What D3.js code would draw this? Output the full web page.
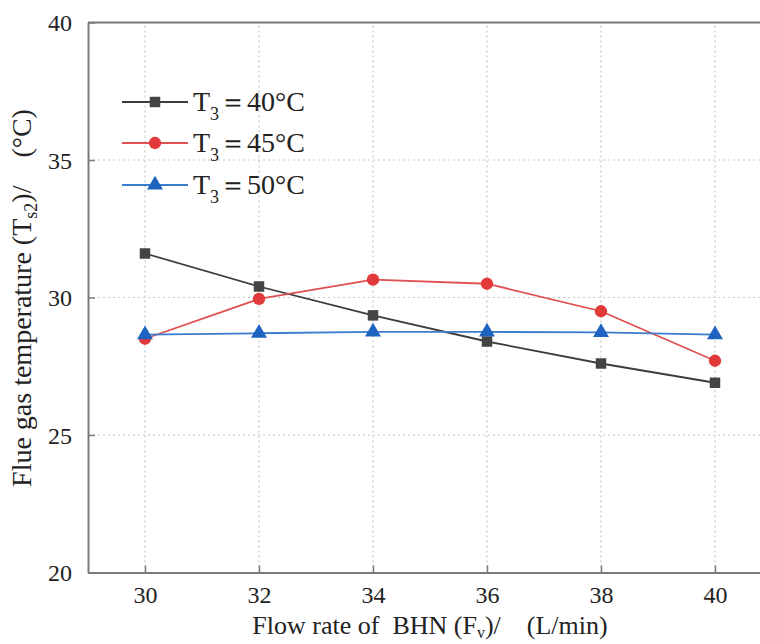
<!DOCTYPE html>
<html><head><meta charset="utf-8">
<script src="https://cdn.jsdelivr.net/npm/d3@7"></script>
<style>body{margin:0;background:#fff}svg{display:block}
text{font-family:"Liberation Serif","DejaVu Serif",serif}</style>
</head><body>
<svg id="c" width="760" height="644"></svg>
<script>
const flowRates = [30, 32, 34, 36, 38, 40];
const t40 = [31.6, 30.4, 29.35, 28.4, 27.6, 26.9];
const t45 = [28.5, 29.95, 30.65, 30.5, 29.5, 27.7];
const t50 = [28.65, 28.7, 28.75, 28.75, 28.73, 28.65];
const xTicks = [30, 32, 34, 36, 38, 40];
const yTicks = [20, 25, 30, 35, 40];
const seriesNames = ["40°C", "45°C", "50°C"];

const svg = d3.select("#c");
const font = '"Liberation Serif","DejaVu Serif",serif';
const x = d3.scaleLinear().domain([29, 41]).range([88, 772]);
const y = d3.scaleLinear().domain([20, 40]).range([572.5, 22.5]);
const axisColor = "#7a7a7a";

// grid
const g = svg.append("g");
g.selectAll("line.vx").data(xTicks).join("line")
  .attr("x1", d => x(d)).attr("x2", d => x(d)).attr("y1", y(20)).attr("y2", y(40))
  .attr("stroke", "#c8c8c8").attr("stroke-width", 1.2).attr("stroke-dasharray", "2,3");
g.selectAll("line.hy").data(yTicks.slice(1, -1)).join("line")
  .attr("x1", x(29)).attr("x2", 760).attr("y1", d => y(d)).attr("y2", d => y(d))
  .attr("stroke", "#c8c8c8").attr("stroke-width", 1.2).attr("stroke-dasharray", "2,3");

// axes
const xAxis = d3.axisBottom(x).tickValues(xTicks).tickSizeInner(-7).tickSizeOuter(0).tickPadding(13);
const yAxis = d3.axisLeft(y).tickValues(yTicks).tickSizeInner(-7).tickSizeOuter(0).tickPadding(16);
const ax = svg.append("g").attr("transform", `translate(0,${y(20)})`).call(xAxis);
const ay = svg.append("g").attr("transform", `translate(${x(29)},0)`).call(yAxis);
[ax, ay].forEach(a => {
  a.attr("font-family", null).attr("font-size", null);
  a.select(".domain").attr("stroke", axisColor).attr("stroke-width", 2);
  a.selectAll(".tick line").attr("stroke", axisColor).attr("stroke-width", 1.5);
  a.selectAll(".tick text").style("font-family", font).style("font-size", "24px").attr("fill", "#222");
});
ax.selectAll(".tick text").attr("dy", "0.74em");
ay.selectAll(".tick text").attr("dy", "0.35em");
// top border
svg.append("line").attr("x1", x(29)).attr("x2", 760).attr("y1", y(40)).attr("y2", y(40))
  .attr("stroke", axisColor).attr("stroke-width", 2);

// series
const series = [
  {vals: t40, line: "#3c3c3c", fill: "#444444", sym: d3.symbolSquare, size: 110},
  {vals: t45, line: "#e05050", fill: "#e23a3a", sym: d3.symbolCircle, size: 120},
  {vals: t50, line: "#3b7ccc", fill: "#1f63c0", sym: d3.symbolTriangle, size: 110}
];
const line = d3.line().x(d => x(d[0])).y(d => y(d[1]));
series.forEach(s => {
  const pts = flowRates.map((f, i) => [f, s.vals[i]]);
  svg.append("path").attr("d", line(pts)).attr("fill", "none")
    .attr("stroke", s.line).attr("stroke-width", 1.8);
  svg.selectAll(null).data(pts).join("path")
    .attr("d", d3.symbol().type(s.sym).size(s.size))
    .attr("transform", d => `translate(${x(d[0])},${y(d[1])})`)
    .attr("fill", s.fill);
});

// legend
const legY = [102, 143, 185];
series.forEach((s, i) => {
  const lg = svg.append("g").attr("transform", `translate(0,${legY[i]})`);
  lg.append("line").attr("x1", 122).attr("x2", 188).attr("y1", 0).attr("y2", 0)
    .attr("stroke", s.line).attr("stroke-width", 1.8);
  lg.append("path").attr("d", d3.symbol().type(s.sym).size(s.size)())
    .attr("transform", "translate(155,0)").attr("fill", s.fill);
  const t = lg.append("text").attr("x", 193).attr("y", 9)
    .style("font-family", font).style("font-size", "28px").attr("fill", "#222");
  t.append("tspan").text("T");
  t.append("tspan").style("font-size", "18px").attr("dy", 9).text("3");
  t.append("tspan").attr("dy", -9).text("＝" + seriesNames[i]);
});

// axis titles
const xt = svg.append("text").attr("x", 430).attr("y", 634).attr("text-anchor", "middle")
  .style("font-family", font).style("font-size", "26px").attr("fill", "#222");
xt.append("tspan").text("Flow rate of\u00a0 BHN (F");
xt.append("tspan").style("font-size", "16px").attr("dy", 4).text("v");
xt.append("tspan").attr("dy", -4).text(")/\u00a0\u00a0\u00a0 (L/min)");

const yt = svg.append("text").attr("transform", "translate(31,298) rotate(-90)")
  .attr("text-anchor", "middle")
  .style("font-family", font).style("font-size", "28px").attr("fill", "#222");
yt.append("tspan").text("Flue gas temperature (T");
yt.append("tspan").style("font-size", "18px").attr("dy", 6).text("s2");
yt.append("tspan").attr("dy", -6).text(")/\u00a0\u00a0\u00a0 (°C)");
</script>
</body></html>
